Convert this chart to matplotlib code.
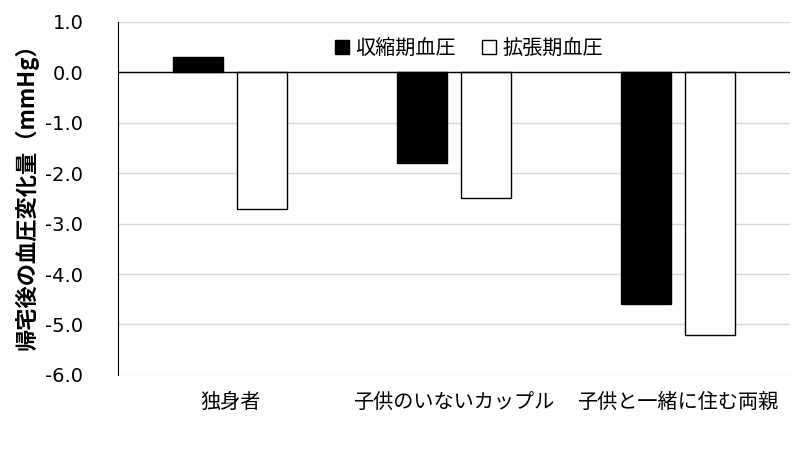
import numpy as np
import matplotlib.pyplot as plt

plt.rcParams['font.family'] = ['Noto Sans CJK JP', 'DejaVu Sans']

categories = ['独身者', '子供のいないカップル', '子供と一緒に住む両親']
systolic = [0.3, -1.8, -4.6]     # 収縮期血圧
diastolic = [-2.7, -2.5, -5.2]   # 拡張期血圧
yticks = [1.0, 0.0, -1.0, -2.0, -3.0, -4.0, -5.0, -6.0]

fig = plt.figure(figsize=(8.03, 4.68), dpi=100)
ax = fig.add_axes([0.147, 0.199, 0.837, 0.754])

x = np.arange(len(categories))
w = 0.223
off = 0.143
ax.bar(x - off, systolic, w, color='black', edgecolor='black', linewidth=1,
       label='収縮期血圧', zorder=3)
ax.bar(x + off, diastolic, w, color='white', edgecolor='black', linewidth=1,
       label='拡張期血圧', zorder=3)

ax.axhline(0, color='black', linewidth=1, zorder=4)
ax.set_xlim(-0.5, 2.5)
ax.set_ylim(-6, 1)
ax.set_yticks(yticks)
ax.set_yticklabels([f'{v:.1f}' for v in yticks], fontsize=14, family='DejaVu Sans')
ax.yaxis.grid(True, color='#d9d9d9', linewidth=1, zorder=0)
ax.set_axisbelow(True)

ax.set_xticks(x)
ax.set_xticklabels(categories, fontsize=14.5)
ax.tick_params(axis='x', length=0, pad=12)
ax.tick_params(axis='y', length=0, pad=25)

for s in ['top', 'right', 'bottom']:
    ax.spines[s].set_visible(False)
ax.spines['left'].set_color('black')

ax.set_ylabel('帰宅後の血圧変化量（mmHg）', fontsize=16, fontweight='bold')
ax.yaxis.set_label_coords(-0.118, 0.52)

ax.legend(loc='upper center', bbox_to_anchor=(0.522, 1.005), ncol=2, frameon=False,
          fontsize=14.5, handlelength=0.7, handleheight=0.7, columnspacing=1.3,
          handletextpad=0.3)

plt.savefig('out.png', dpi=100)
